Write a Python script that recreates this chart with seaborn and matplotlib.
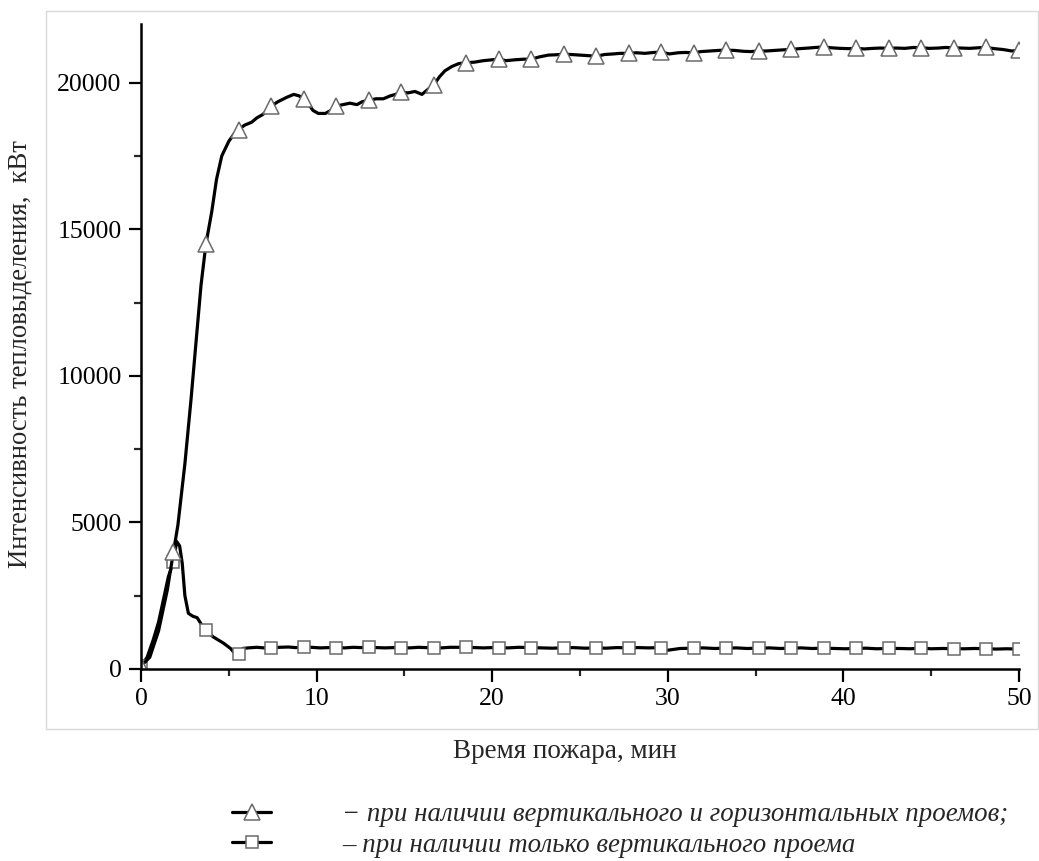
import numpy as np
import pandas as pd
import matplotlib
matplotlib.use("Agg")
import matplotlib.pyplot as plt
import seaborn as sns
from matplotlib.ticker import MultipleLocator
from matplotlib.patches import Rectangle

# ---------------- data ----------------
marker_times = [0.0, 1.85, 3.70, 5.56, 7.41, 9.26, 11.11, 12.96, 14.81, 16.67,
                18.52, 20.37, 22.22, 24.07, 25.93, 27.78, 29.63, 31.48, 33.33,
                35.19, 37.04, 38.89, 40.74, 42.59, 44.44, 46.30, 48.15, 50.0]

# series 1: vertical + horizontal openings (triangles)
t1 = [0.0, 0.5, 1.0, 1.5, 1.85, 2.1, 2.5, 2.85, 3.2, 3.42, 3.70, 4.03, 4.3, 4.6,
      5.0, 5.3, 5.56, 5.9, 6.3, 6.6, 6.9, 7.2, 7.41, 7.8, 8.3, 8.7, 9.0, 9.26,
      9.5, 9.8, 10.1, 10.5, 10.8, 11.11, 11.5, 11.9, 12.3, 12.6, 12.96, 13.4,
      13.8, 14.2, 14.5, 14.81, 15.2, 15.6, 16.0, 16.3, 16.67, 17.0, 17.3, 17.7,
      18.1, 18.52, 19.0, 19.5, 20.0, 20.37, 20.8, 21.3, 21.8, 22.22, 22.7, 23.2,
      23.6, 24.07, 24.5, 25.0, 25.5, 25.93, 26.4, 26.9, 27.3, 27.78, 28.2, 28.7,
      29.2, 29.63, 30.1, 30.6, 31.0, 31.48, 31.9, 32.4, 32.9, 33.33, 33.8, 34.3,
      34.7, 35.19, 35.6, 36.1, 36.6, 37.04, 37.5, 38.0, 38.4, 38.89, 39.3, 39.8,
      40.3, 40.74, 41.2, 41.7, 42.1, 42.59, 43.0, 43.5, 44.0, 44.44, 44.9, 45.4,
      45.8, 46.30, 46.7, 47.2, 47.7, 48.15, 48.6, 49.1, 49.6, 50.0]
q1 = [100, 400, 1300, 2700, 4000, 4900, 7000, 9200, 11600, 13100, 14500, 15600,
      16700, 17500, 18000, 18250, 18400, 18550, 18650, 18800, 18900, 19050, 19200,
      19350, 19500, 19600, 19550, 19450, 19300, 19050, 18950, 18950, 19050, 19200,
      19250, 19300, 19250, 19350, 19400, 19450, 19450, 19550, 19600, 19680, 19650,
      19700, 19600, 19750, 19920, 20200, 20400, 20550, 20650, 20680, 20700, 20750,
      20780, 20800, 20750, 20780, 20800, 20800, 20880, 20940, 20950, 20970, 20960,
      20940, 20920, 20900, 20960, 20980, 21000, 21000, 21020, 21000, 21030, 21040,
      20980, 21020, 21030, 21020, 21060, 21080, 21100, 21110, 21100, 21070, 21060,
      21080, 21080, 21100, 21120, 21135, 21160, 21180, 21200, 21220, 21190, 21170,
      21160, 21170, 21150, 21170, 21180, 21170, 21180, 21170, 21200, 21190, 21170,
      21180, 21200, 21190, 21180, 21170, 21190, 21200, 21160, 21130, 21080, 21100]

# series 2: vertical opening only (squares)
t2 = [0.0, 0.35, 0.7, 1.0, 1.2, 1.56, 1.85, 2.03, 2.2, 2.35, 2.5, 2.7, 2.95, 3.2,
      3.46, 3.70, 4.1, 4.7, 5.1, 5.3, 5.56, 5.8, 6.1, 6.6, 7.0, 7.41, 7.9, 8.4,
      8.8, 9.26, 9.7, 10.2, 10.7, 11.11, 11.6, 12.1, 12.5, 12.96, 13.4, 13.9,
      14.4, 14.81, 15.3, 15.8, 16.2, 16.67, 17.1, 17.6, 18.1, 18.52, 19.0, 19.5,
      20.0, 20.37, 20.9, 21.5, 22.22, 22.8, 23.4, 24.07, 24.6, 25.3, 25.93, 26.5,
      27.1, 27.78, 28.3, 28.9, 29.63, 30.0, 30.7, 31.48, 32.0, 32.7, 33.33, 33.9,
      34.5, 35.19, 35.8, 36.4, 37.04, 37.6, 38.2, 38.89, 39.5, 40.1, 40.74, 41.3,
      41.9, 42.59, 43.2, 43.8, 44.44, 45.0, 45.7, 46.30, 46.9, 47.5, 48.15, 48.7,
      49.3, 50.0]
q2 = [100, 400, 1000, 1600, 2150, 3150, 3660, 4350, 4200, 3600, 2500, 1900, 1800,
      1750, 1500, 1330, 1100, 880, 700, 560, 520, 700, 720, 740, 720, 730, 740,
      750, 730, 740, 740, 720, 730, 730, 720, 740, 730, 740, 730, 720, 730, 730,
      720, 740, 730, 730, 720, 740, 740, 740, 730, 720, 730, 730, 720, 740, 730,
      720, 710, 720, 730, 710, 720, 710, 730, 720, 730, 720, 730, 640, 700, 710,
      720, 700, 710, 720, 700, 710, 720, 700, 710, 720, 700, 710, 700, 690, 700,
      710, 690, 700, 700, 690, 710, 690, 700, 690, 690, 700, 690, 680, 690, 680]

label1 = "− при наличии вертикального и горизонтальных проемов;"
label2 = "– при наличии только вертикального проема"
x_label = "Время пожара, мин"
y_label = "Интенсивность тепловыделения,  кВт"
x_ticks = [0, 10, 20, 30, 40, 50]
y_ticks = [0, 5000, 10000, 15000, 20000]

# ---------------- style ----------------
sns.set_theme(style="ticks")
plt.rcParams['font.family'] = ['Liberation Serif', 'DejaVu Serif']
plt.rcParams['axes.linewidth'] = 1.8

df1 = pd.DataFrame({"t": t1, "q": q1})
df2 = pd.DataFrame({"t": t2, "q": q2})
idx1 = [int(np.argmin(np.abs(np.array(t1) - m))) for m in marker_times]
idx2 = [int(np.argmin(np.abs(np.array(t2) - m))) for m in marker_times]

fig = plt.figure(figsize=(10.39, 8.61), dpi=100)
ax = fig.add_axes([0.1357, 0.2230, 0.8450, 0.7491])

sns.lineplot(data=df2, x="t", y="q", ax=ax, color="black", linewidth=2.3,
             marker="s", markevery=idx2, markersize=9, markerfacecolor="white",
             markeredgecolor="#6a6a6a", markeredgewidth=1.1, label=label2)
sns.lineplot(data=df1, x="t", y="q", ax=ax, color="black", linewidth=2.3,
             marker="^", markevery=idx1, markersize=11, markerfacecolor="white",
             markeredgecolor="#6a6a6a", markeredgewidth=1.1, label=label1)

ax.set_xlim(0, 50)
ax.set_ylim(0, 22000)
ax.set_xticks(x_ticks)
ax.set_yticks(y_ticks)
ax.xaxis.set_minor_locator(MultipleLocator(5))
ax.yaxis.set_minor_locator(MultipleLocator(2500))
ax.tick_params(which="major", direction="out", length=9, width=1.6,
               labelsize=18.5, pad=5, colors="black")
ax.tick_params(which="minor", direction="out", length=5, width=1.6)
sns.despine(ax=ax)
for s in ("left", "bottom"):
    ax.spines[s].set_color("black")
ax.set_xlabel("")
ax.set_ylabel("")

fig.text(20 / 1039, 1 - 354 / 861, y_label, rotation=90, ha="center",
         va="center", fontsize=19.2)
fig.text(565 / 1039, 1 - 752 / 861, x_label, ha="center", va="center",
         fontsize=19.5)

handles, labels = ax.get_legend_handles_labels()
ax.get_legend().remove()
order = [labels.index(label1), labels.index(label2)]
fig.legend([handles[i] for i in order], [labels[i] for i in order],
           loc="upper left", bbox_to_anchor=(232 / 1039, 1 - 802 / 861),
           frameon=False, handlelength=1.45, handletextpad=2.65,
           labelspacing=0.22, borderpad=0, borderaxespad=0,
           prop={"family": ["Liberation Serif", "DejaVu Serif"],
                 "style": "italic", "size": 19.4})

fig.patches.append(Rectangle((46 / 1039, 1 - 729 / 861), 992 / 1039, 718 / 861,
                             transform=fig.transFigure, fill=False,
                             edgecolor="#d9d9d9", linewidth=1.0))

fig.savefig("out.png", dpi=100, facecolor="white")
